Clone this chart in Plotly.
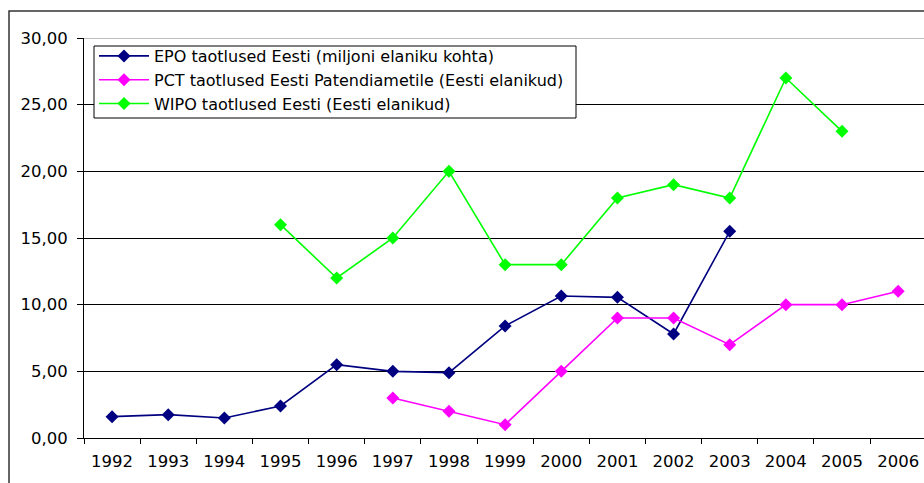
import plotly.graph_objects as go

years = ["1992", "1993", "1994", "1995", "1996", "1997", "1998", "1999",
         "2000", "2001", "2002", "2003", "2004", "2005", "2006"]

epo = [1.6, 1.75, 1.5, 2.4, 5.5, 5.0, 4.9, 8.4, 10.65, 10.55, 7.8, 15.5, None, None, None]
pct = [None, None, None, None, None, 3.0, 2.0, 1.0, 5.0, 9.0, 9.0, 7.0, 10.0, 10.0, 11.0]
wipo = [None, None, None, 16.0, 12.0, 15.0, 20.0, 13.0, 13.0, 18.0, 19.0, 18.0, 27.0, 23.0, None]

names = [
    "EPO taotlused Eesti (miljoni elaniku kohta)",
    "PCT taotlused Eesti Patendiametile (Eesti elanikud)",
    "WIPO taotlused Eesti (Eesti elanikud)",
]
colors = ["#000080", "#FF00FF", "#00FF00"]

FONT = "DejaVu Sans"

fig = go.Figure()
for name, vals, col in zip(names, [epo, pct, wipo], colors):
    fig.add_trace(go.Scatter(
        x=years, y=vals, name=name, mode="lines+markers",
        line=dict(color=col, width=1.6),
        marker=dict(symbol="diamond", size=10, color=col),
        connectgaps=False,
    ))

W, H = 924, 483
L, R, T, B = 84, 0, 38, 45
pw, ph = W - L - R, H - T - B

def px_x(x):
    return (x - L) / pw

def px_y(y):
    return (H - B - y) / ph

fig.update_layout(
    width=W, height=H,
    margin=dict(l=L, r=R, t=T, b=B),
    paper_bgcolor="white", plot_bgcolor="white",
    separators=",.",
    font=dict(family=FONT, size=16, color="black"),
    showlegend=True,
    legend=dict(
        x=px_x(94), y=px_y(39), xanchor="left", yanchor="top",
        borderwidth=0, bgcolor="rgba(0,0,0,0)",
        font=dict(family=FONT, size=16, color="black"),
        itemwidth=50, tracegroupgap=0,
    ),
    xaxis=dict(
        type="category", range=[-0.5, 14.46],
        showline=True, linecolor="black", linewidth=1,
        ticks="outside", ticklen=5, tickcolor="black", tickson="boundaries",
        showgrid=False, tickfont=dict(family=FONT, size=16.5),
        ticklabelstandoff=8,
    ),
    yaxis=dict(
        range=[0, 30], tickvals=[0, 5, 10, 15, 20, 25, 30], tickformat=".2f",
        showline=True, linecolor="black", linewidth=1,
        ticks="outside", ticklen=6, tickcolor="black",
        showgrid=True, gridcolor="black", gridwidth=1, zeroline=False,
        tickfont=dict(family=FONT, size=16.5),
        ticklabelstandoff=6,
    ),
    shapes=[
        # grey top edge of the plot area at 30
        dict(type="line", xref="paper", yref="y", x0=0, x1=1, y0=30, y1=30,
             line=dict(color="#808080", width=1), layer="above"),
        # legend box
        dict(type="rect", xref="paper", yref="paper",
             x0=px_x(94), x1=px_x(576), y0=px_y(46), y1=px_y(118),
             line=dict(color="black", width=1), fillcolor="white", layer="above"),
        # outer chart frame
        dict(type="rect", xref="paper", yref="paper",
             x0=px_x(9), x1=px_x(940), y0=px_y(11), y1=px_y(500),
             line=dict(color="#333333", width=1.5), layer="above"),
    ],
)

fig.write_html("out.html")
